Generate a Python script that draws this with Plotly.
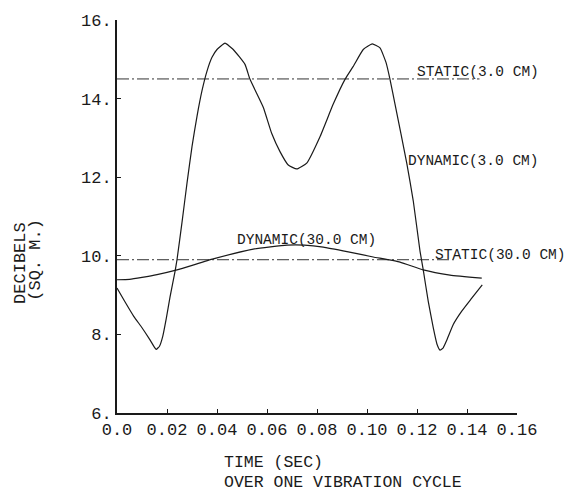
import plotly.graph_objects as go

# ---- data ----
t_dyn3 = [0.000, 0.003, 0.0067, 0.010, 0.013, 0.0150, 0.0157, 0.0170, 0.0183, 0.0197,
          0.0212, 0.0232, 0.0240, 0.0260, 0.0280, 0.0300, 0.0320, 0.0340, 0.0360, 0.0380,
          0.0400, 0.0432, 0.0465, 0.0512, 0.0532, 0.0585, 0.0619, 0.0652, 0.0685, 0.0719,
          0.0759, 0.0812, 0.0865, 0.0912, 0.0945, 0.0985, 0.1021, 0.1052, 0.1076, 0.1092,
          0.1112, 0.1159, 0.1185, 0.1212, 0.1225, 0.1245, 0.1265, 0.1280, 0.1292, 0.1305,
          0.1319, 0.1345, 0.1379, 0.1419, 0.1461]
db_dyn3 = [9.18, 8.85, 8.46, 8.17, 7.88, 7.67, 7.62, 7.70, 7.95, 8.40,
           8.95, 9.60, 9.90, 10.85, 11.85, 12.78, 13.55, 14.20, 14.70, 15.05,
           15.25, 15.41, 15.25, 14.87, 14.49, 13.78, 13.11, 12.65, 12.31, 12.21,
           12.36, 13.03, 13.86, 14.49, 14.82, 15.25, 15.39, 15.29, 14.92, 14.49,
           13.86, 12.36, 11.40, 10.12, 9.64, 8.84, 8.17, 7.75, 7.60, 7.66,
           7.85, 8.25, 8.59, 8.92, 9.26]

t_dyn30 = [0.000, 0.005, 0.010, 0.016, 0.024, 0.0385, 0.0545, 0.068, 0.075, 0.0825,
           0.0925, 0.1025, 0.1132, 0.1225, 0.1332, 0.1459]
db_dyn30 = [9.39, 9.40, 9.45, 9.52, 9.64, 9.92, 10.17, 10.27, 10.27, 10.22,
            10.10, 9.97, 9.84, 9.64, 9.51, 9.43]

t_static3 = [0.0, 0.145]
db_static3 = [14.5, 14.5]
t_static30 = [0.0, 0.136]
db_static30 = [9.9, 9.9]

x_ticks = [0.0, 0.02, 0.04, 0.06, 0.08, 0.10, 0.12, 0.14, 0.16]
x_tick_text = ["0.0", "0.02", "0.04", "0.06", "0.08", "0.10", "0.12", "0.14", "0.16"]
y_ticks = [6, 8, 10, 12, 14, 16]
y_tick_text = ["6.", "8.", "10.", "12.", "14.", "16."]

labels = ["STATIC(3.0 CM)", "DYNAMIC(3.0 CM)", "DYNAMIC(30.0 CM)", "STATIC(30.0 CM)"]
label_x = [0.1192, 0.1156, 0.0472, 0.1264]
label_y = [14.67, 12.41, 10.40, 10.02]

FONT = "Liberation Mono"
INK = "#1a1a1a"

fig = go.Figure()
fig.add_trace(go.Scatter(x=t_static3, y=db_static3, mode="lines",
                         line=dict(color="#333", width=1, dash="12px,3px,2px,3px")))
fig.add_trace(go.Scatter(x=t_static30, y=db_static30, mode="lines",
                         line=dict(color="#333", width=1, dash="12px,3px,2px,3px")))
fig.add_trace(go.Scatter(x=t_dyn3, y=db_dyn3, mode="lines",
                         line=dict(color=INK, width=1.2, shape="spline", smoothing=0.4)))
fig.add_trace(go.Scatter(x=t_dyn30, y=db_dyn30, mode="lines",
                         line=dict(color=INK, width=1.2, shape="spline", smoothing=0.4)))

for txt, lx, ly in zip(labels, label_x, label_y):
    fig.add_annotation(x=lx, y=ly, xref="x", yref="y", text=txt, showarrow=False,
                       xanchor="left", yanchor="middle",
                       font=dict(family=FONT, size=14.5, color=INK))

# axis titles
fig.add_annotation(x=-0.24, y=(413 - 261) / 398, xref="paper", yref="paper",
                   text="DECIBELS", textangle=-90, showarrow=False,
                   xanchor="center", yanchor="middle", borderpad=0,
                   font=dict(family=FONT, size=17, color=INK))
fig.add_annotation(x=-0.203, y=(413 - 258) / 398, xref="paper", yref="paper",
                   text="(SQ. M.)", textangle=-90, showarrow=False,
                   xanchor="center", yanchor="middle", borderpad=0,
                   font=dict(family=FONT, size=17, color=INK))
fig.add_annotation(x=(223 - 117) / 400, y=-(463 - 413) / 398, xref="paper", yref="paper",
                   text="TIME (SEC)", showarrow=False,
                   xanchor="left", yanchor="middle", borderpad=0,
                   font=dict(family=FONT, size=16.5, color=INK))
fig.add_annotation(x=(223 - 117) / 400, y=-(483 - 413) / 398, xref="paper", yref="paper",
                   text="OVER ONE VIBRATION CYCLE", showarrow=False,
                   xanchor="left", yanchor="middle", borderpad=0,
                   font=dict(family=FONT, size=16.5, color=INK))

fig.update_layout(
    width=571, height=493,
    margin=dict(l=117, r=54, t=15, b=80),
    paper_bgcolor="white", plot_bgcolor="white",
    showlegend=False,
    xaxis=dict(range=[0, 0.16], tickvals=x_ticks, ticktext=x_tick_text,
               showgrid=False, zeroline=False, showline=True, linecolor=INK, linewidth=1.5,
               ticks="inside", ticklen=4, tickcolor=INK, tickwidth=1,
               tickfont=dict(family=FONT, size=17, color=INK)),
    yaxis=dict(range=[6, 16], tickvals=y_ticks, ticktext=y_tick_text,
               showgrid=False, zeroline=False, showline=True, linecolor=INK, linewidth=2,
               ticks="inside", ticklen=4, tickcolor=INK, tickwidth=1,
               tickfont=dict(family=FONT, size=17, color=INK)),
)

fig.write_html("out.html", config={"displayModeBar": False},
               post_script="document.body.style.margin='0';document.body.style.overflow='hidden';")
